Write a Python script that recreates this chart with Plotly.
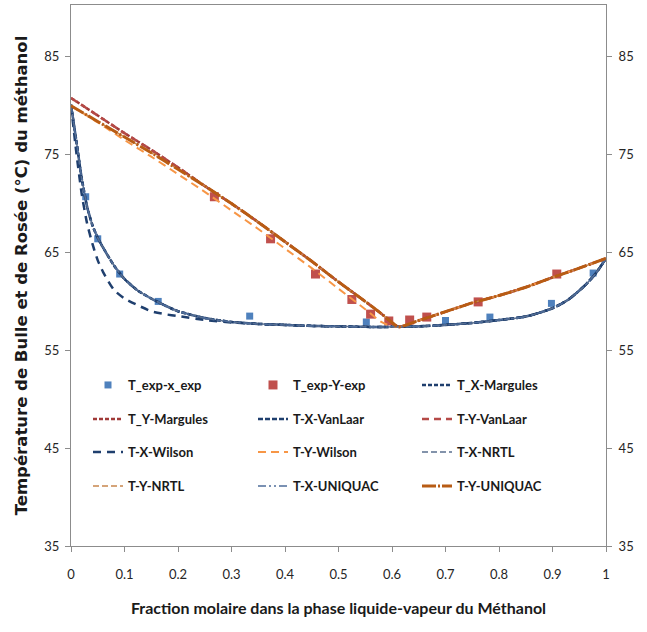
import plotly.graph_objects as go

# Experimental equilibrium data (methanol mole fraction, temperature in °C)
x_exp = [0.0275, 0.05, 0.091, 0.163, 0.334, 0.552, 0.70, 0.783, 0.898, 0.976]
t_exp_x = [70.7, 66.4, 62.8, 60.0, 58.5, 57.9, 58.05, 58.4, 59.8, 62.9]
y_exp = [0.268, 0.373, 0.457, 0.525, 0.56, 0.594, 0.633, 0.665, 0.761, 0.908]
t_exp_y = [70.7, 66.4, 62.8, 60.2, 58.7, 58.0, 58.1, 58.4, 59.95, 62.8]

# Bubble-point curves (liquid composition)
x_bubble = [0, 0.01, 0.02, 0.03, 0.04, 0.05, 0.06, 0.08, 0.10, 0.125, 0.15, 0.175,
            0.2, 0.25, 0.3, 0.35, 0.4, 0.45, 0.5, 0.55, 0.6, 0.65, 0.7, 0.75, 0.8,
            0.85, 0.9, 0.93, 0.96, 0.98, 1.0]
t_bubble_models = [80.1, 76.4, 72.6, 69.7, 67.8, 66.5, 65.5, 63.7, 62.3, 61.1, 60.3, 59.6,
                   59.0, 58.3, 57.9, 57.7, 57.6, 57.5, 57.45, 57.4, 57.4, 57.45, 57.6, 57.8, 58.1,
                   58.45, 59.3, 60.2, 61.6, 62.8, 64.4]
t_bubble_wilson = [80.1, 75.2, 71.0, 68.0, 65.9, 64.2, 63.0, 61.2, 60.3, 59.6, 59.0, 58.7,
                   58.5, 58.1, 57.85, 57.7, 57.6, 57.5, 57.45, 57.4, 57.4, 57.45, 57.6, 57.8, 58.1,
                   58.45, 59.3, 60.2, 61.6, 62.8, 64.4]

# Dew-point curves (vapour composition)
x_dew = [0, 0.05, 0.1, 0.15, 0.2, 0.25, 0.3, 0.35, 0.4, 0.45, 0.5, 0.55, 0.58, 0.6,
         0.612, 0.65, 0.7, 0.75, 0.8, 0.85, 0.9, 0.95, 1.0]
t_dew_models = [80.0, 78.4, 76.8, 75.2, 73.5, 71.8, 70.0, 68.1, 66.1, 64.1, 62.0, 60.0, 58.75, 57.85,
                57.4, 58.05, 58.95, 59.85, 60.6, 61.45, 62.45, 63.4, 64.4]
t_dew_margules_vanlaar = [80.8, 79.0, 77.2, 75.5, 73.7, 71.8, 70.0, 68.1, 66.1, 64.1, 62.0, 60.0, 58.75, 57.85,
                          57.4, 58.05, 58.95, 59.85, 60.6, 61.45, 62.45, 63.4, 64.4]
t_dew_wilson = [80.0, 78.3, 76.5, 74.8, 73.0, 71.2, 69.3, 67.4, 65.4, 63.4, 61.3, 59.2, 57.9, 57.45,
                57.4, 58.05, 58.95, 59.85, 60.6, 61.45, 62.45, 63.4, 64.4]

y_ticks = [35, 45, 55, 65, 75, 85]

W, H = 647, 632
ML, MR, MT, MB = 71, 41, 5, 86
PW, PH = W - ML - MR, H - MT - MB
FONT = "Lato"

fig = go.Figure()

fig.add_trace(go.Scatter(x=x_exp, y=t_exp_x, mode="markers", name="T_exp-x_exp",
                         marker=dict(symbol="square", size=7, color="#4F81BD"),
                         legend="legend"))
fig.add_trace(go.Scatter(x=y_exp, y=t_exp_y, mode="markers", name="T_exp-Y-exp",
                         marker=dict(symbol="square", size=9, color="#C0504D"),
                         legend="legend2"))

line_series = [
    ("T_X-Margules", x_bubble, t_bubble_models, "#1F3F6E", 2.5, "4px,2px"),
    ("T_Y-Margules", x_dew, t_dew_margules_vanlaar, "#A03A38", 2.5, "4px,2px"),
    ("T-X-VanLaar", x_bubble, t_bubble_models, "#1F3F6E", 2.5, "5px,2px"),
    ("T-Y-VanLaar", x_dew, t_dew_margules_vanlaar, "#B54A47", 2.5, "7px,5px"),
    ("T-X-Wilson", x_bubble, t_bubble_wilson, "#1F3F6E", 2.5, "8px,6px"),
    ("T-Y-Wilson", x_dew, t_dew_wilson, "#F79646", 2, "8px,5px"),
    ("T-X-NRTL", x_bubble, t_bubble_models, "#5B7090", 1.5, "6px,3px"),
    ("T-Y-NRTL", x_dew, t_dew_models, "#C8864E", 1.5, "6px,3px"),
    ("T-X-UNIQUAC", x_bubble, t_bubble_models, "#4F6D9A", 1.5, "8px,3px,2px,3px,2px,3px"),
    ("T-Y-UNIQUAC", x_dew, t_dew_models, "#B85C14", 3, "14px,2px,2px,2px"),
]
for i, (name, xs, ts, color, width, dash) in enumerate(line_series):
    fig.add_trace(go.Scatter(x=xs, y=ts, mode="lines", name=name,
                             line=dict(color=color, width=width, dash=dash, shape="spline",
                                       smoothing=0.6),
                             legend=f"legend{i + 3}"))

# keep the right-hand temperature axis populated
fig.add_trace(go.Scatter(x=[0, 1], y=[35, 35], mode="lines", yaxis="y2",
                         line=dict(width=0), showlegend=False, hoverinfo="skip"))

# legend grid: 3 columns x 4 rows inside the plot area (pixel anchors -> paper coords)
col_px = [88, 253, 417]
row_px = [385, 419, 452, 486]
legends = {}
for k in range(12):
    r, c = divmod(k, 3)
    key = "legend" if k == 0 else f"legend{k + 1}"
    legends[key] = dict(
        x=(col_px[c] - ML) / PW, y=(H - MB - row_px[r]) / PH,
        xanchor="left", yanchor="middle", orientation="h",
        bgcolor="rgba(0,0,0,0)", borderwidth=0,
        font=dict(family=FONT, size=13, color="#1a1a1a", weight="bold"),
        itemwidth=30,
    )

axis_line = "#8C8C8C"
tick_font = dict(family=FONT, size=13, color="#262626")
y_range = [35, 90.3]

fig.update_layout(
    width=W, height=H,
    margin=dict(l=ML, r=MR, t=MT, b=MB, autoexpand=False),
    paper_bgcolor="white", plot_bgcolor="white",
    showlegend=True,
    xaxis=dict(
        range=[0, 1], tickvals=[i / 10 for i in range(11)],
        ticktext=["0", "0.1", "0.2", "0.3", "0.4", "0.5", "0.6", "0.7", "0.8", "0.9", "1"],
        showgrid=False, zeroline=False, showline=True, linecolor=axis_line, linewidth=1,
        mirror=True, ticks="outside", ticklen=5, tickcolor=axis_line,
        tickfont=tick_font, ticklabelstandoff=11,
        title=dict(text="Fraction molaire dans la phase liquide-vapeur du Méthanol",
                   font=dict(family=FONT, size=16, color="#1a1a1a", weight="bold"),
                   standoff=22),
    ),
    yaxis=dict(
        range=y_range, tickvals=y_ticks, showgrid=False, zeroline=False,
        showline=True, linecolor=axis_line, linewidth=1,
        ticks="outside", ticklen=5, tickcolor=axis_line, tickfont=tick_font,
        ticklabelstandoff=3,
        title=dict(text="Température de Bulle et de Rosée (°C) du méthanol",
                   font=dict(family="DejaVu Sans", size=16.5, color="#1a1a1a", weight="bold"),
                   standoff=12),
    ),
    yaxis2=dict(
        range=y_range, tickvals=y_ticks, overlaying="y", side="right",
        showgrid=False, zeroline=False, showline=True, linecolor=axis_line, linewidth=1,
        ticks="outside", ticklen=5, tickcolor=axis_line, tickfont=tick_font,
        ticklabelstandoff=4,
    ),
    **legends,
)

fig.write_html("out.html")
